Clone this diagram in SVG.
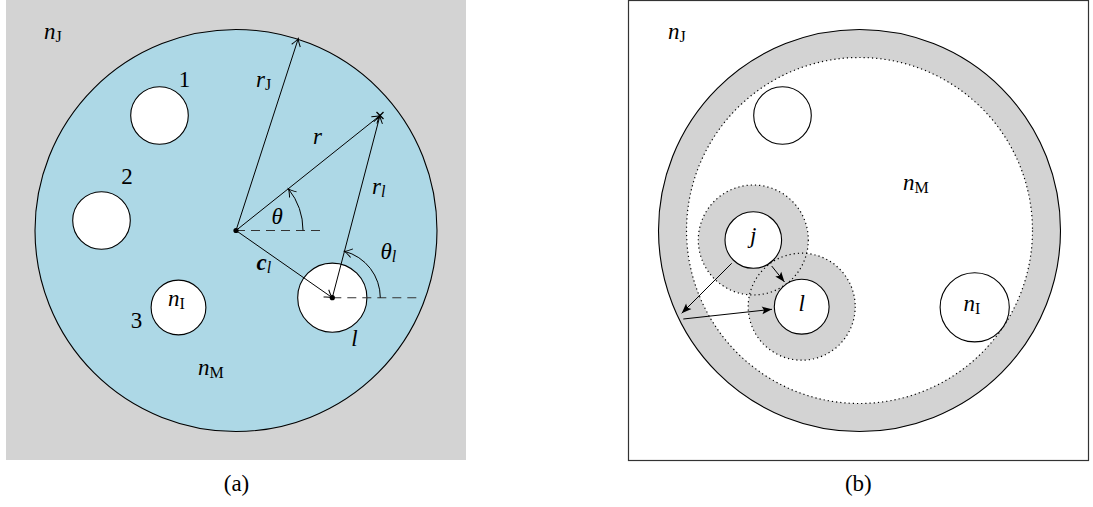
<svg xmlns="http://www.w3.org/2000/svg" width="1093" height="507" viewBox="0 0 1093 507" font-family="'Liberation Serif', 'DejaVu Serif', serif">
<style>
text{font-family:'Liberation Serif','DejaVu Serif',serif;font-size:23px;fill:#000}
.m{font-style:italic}
.s{font-style:normal;font-size:16px}
.si{font-style:italic;font-size:16px}
.ln{stroke:#000;stroke-width:1;fill:none}
.dash{stroke:#333;stroke-width:1.1;stroke-dasharray:9 6;fill:none}
.hole{fill:#fff;stroke:#000;stroke-width:1.1}
.dot{stroke:#000;stroke-width:1.2;stroke-dasharray:1.2 3;fill:none}
</style>
<defs>
<marker id="to" viewBox="-9 -6 11 12" refX="0" refY="0" markerWidth="11" markerHeight="12" markerUnits="userSpaceOnUse" orient="auto">
<path d="M-7.5,-4.5 Q-2.5,-0.8 0,0 Q-2.5,0.8 -7.5,4.5" fill="none" stroke="#000" stroke-width="1"/>
</marker>
<marker id="tri" viewBox="-11 -6 12 12" refX="0" refY="0" markerWidth="12" markerHeight="12" markerUnits="userSpaceOnUse" orient="auto">
<path d="M-10,-3.8 L0,0 L-10,3.8 L-8,0 z" fill="#000"/>
</marker>
</defs>

<g id="panel-a">
<rect x="6" y="0" width="460" height="460" fill="#d3d3d3"/>
<circle id="domain-a" cx="236" cy="230.5" r="201" fill="#add8e6" stroke="#000" stroke-width="1.1"/>
<g id="hole-1"><circle class="hole" cx="159.5" cy="115.5" r="28.8"/><text x="184.5" y="87" text-anchor="middle">1</text></g>
<g id="hole-2"><circle class="hole" cx="101.5" cy="220.5" r="28.8"/><text x="127" y="183.5" text-anchor="middle">2</text></g>
<g id="hole-3"><circle class="hole" cx="178.5" cy="307.5" r="27.4"/><text x="136.5" y="327.5" text-anchor="middle">3</text>
<text class="m" x="168" y="306">n<tspan class="s" dy="3">I</tspan></text></g>
<g id="hole-l"><circle class="hole" cx="332.3" cy="297.7" r="34.6"/><text class="m" x="354.5" y="346" text-anchor="middle">l</text></g>

<g id="connectors-a">
<line class="dash" x1="236" y1="230.5" x2="323" y2="230.5"/>
<line class="dash" x1="332.3" y1="297.7" x2="420" y2="297.7"/>
<line class="ln" x1="236" y1="230.5" x2="298.3" y2="38.5" marker-end="url(#to)"/>
<line class="ln" x1="236" y1="230.5" x2="380" y2="115.5" marker-end="url(#to)"/>
<line class="ln" x1="332.3" y1="297.7" x2="380" y2="115.5" marker-end="url(#to)"/>
<line class="ln" x1="236" y1="230.5" x2="332.3" y2="297.7" marker-end="url(#to)"/>
<path class="ln" d="M303,230.5 A67,67 0 0 0 288.4,188.8" marker-end="url(#to)"/>
<path class="ln" d="M380.3,297.7 A48,48 0 0 0 344.5,251.3" marker-end="url(#to)"/>
<path d="M376.5,112 L383.5,119 M376.5,119 L383.5,112" stroke="#000" stroke-width="1.3"/>
<circle cx="236" cy="230.5" r="2.6" fill="#000"/>
<circle cx="332.3" cy="297.7" r="2.6" fill="#000"/>
</g>

<text class="m" x="44" y="39">n<tspan class="s" dy="3">J</tspan></text>
<text class="m" x="198" y="375">n<tspan class="s" dy="3">M</tspan></text>
<text class="m" x="256" y="86.5">r<tspan class="s" dy="3">J</tspan></text>
<text class="m" x="313" y="143.5">r</text>
<text class="m" x="372" y="193.5">r<tspan class="si" dy="3">l</tspan></text>
<text class="m" x="271.5" y="224">θ</text>
<text class="m" x="380.5" y="259">θ<tspan class="si" dy="3">l</tspan></text>
<text x="256.5" y="269.5" font-weight="bold" font-style="italic">c<tspan class="si" font-weight="normal" dy="3">l</tspan></text>
<text x="236.5" y="491" text-anchor="middle" font-size="21">(a)</text>
</g>

<g id="panel-b">
<rect x="628.5" y="0.5" width="460" height="460" fill="#fff" stroke="#333" stroke-width="1.2"/>
<circle id="outer-b" cx="859.5" cy="230.5" r="201" fill="#d3d3d3" stroke="#000" stroke-width="1.1"/>
<circle id="inner-b" cx="859.5" cy="230.5" r="173" fill="#fff"/>
<circle class="dot" cx="859.5" cy="230.5" r="173"/>
<g id="zone-j"><circle cx="753.3" cy="240" r="55" fill="#d3d3d3"/></g>
<g id="zone-l"><circle cx="801.7" cy="306.7" r="53.5" fill="#d3d3d3"/></g>
<circle class="dot" cx="753.3" cy="240" r="55"/>
<circle class="dot" cx="801.7" cy="306.7" r="53.5"/>
<g id="hole-top"><circle class="hole" cx="782.5" cy="115.5" r="28.8"/></g>
<g id="hole-j"><circle class="hole" cx="753.3" cy="240" r="28.3"/><text class="m" x="753.3" y="243" text-anchor="middle">j</text></g>
<g id="hole-lb"><circle class="hole" cx="801.7" cy="306.7" r="27.4"/><text class="m" x="801.7" y="310.5" text-anchor="middle">l</text></g>
<g id="hole-nI"><circle class="hole" cx="974.7" cy="307.3" r="34.6"/><text class="m" x="963.5" y="310.7">n<tspan class="s" dy="3">I</tspan></text></g>
<g id="connectors-b">
<line class="ln" x1="731.7" y1="263.3" x2="681.7" y2="313.3" marker-end="url(#tri)"/>
<line class="ln" x1="683.3" y1="319" x2="772" y2="309.3" marker-end="url(#tri)"/>
<line class="ln" x1="771.7" y1="266" x2="784.5" y2="282" marker-end="url(#tri)"/>
</g>
<text class="m" x="668" y="39">n<tspan class="s" dy="3">J</tspan></text>
<text class="m" x="903" y="190">n<tspan class="s" dy="3">M</tspan></text>
<text x="858.3" y="491" text-anchor="middle" font-size="21">(b)</text>
</g>
</svg>
